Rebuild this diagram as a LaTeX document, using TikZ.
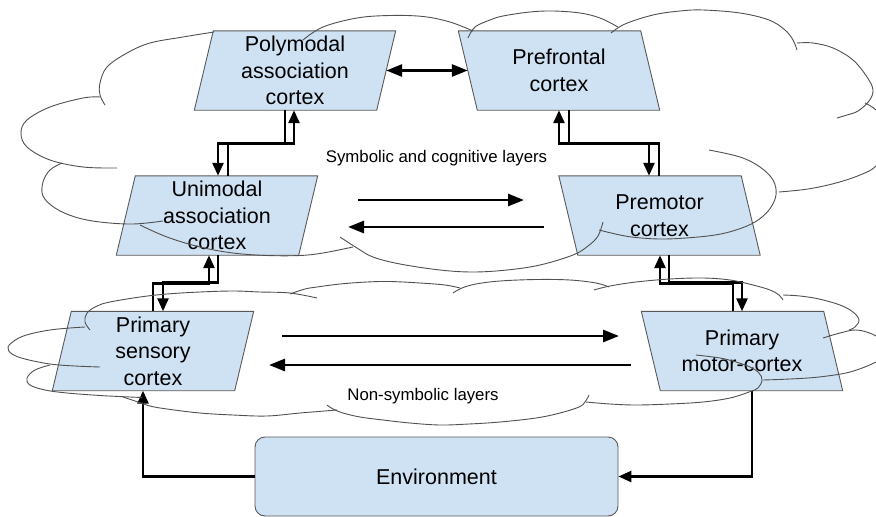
\documentclass[tikz,border=0pt]{standalone}
\usepackage{fontspec}
\setmainfont{Liberation Sans}
\usetikzlibrary{arrows.meta,calc}
\pgfdeclarelayer{background}
\pgfsetlayers{background,main}
\definecolor{boxfill}{HTML}{CFE2F3}
\definecolor{boxline}{HTML}{595959}
\definecolor{cloudline}{HTML}{505050}

\begin{document}
\begin{tikzpicture}[x=1pt,y=-1pt,
  cortex/.style={minimum width=182pt, minimum height=79pt, inner sep=0pt,
    align=center, font=\fontsize{21.5}{26.5}\selectfont},
  envbox/.style={minimum width=363pt, minimum height=79pt, inner sep=0pt,
    draw=boxline, fill=boxfill, line width=0.9pt, rounded corners=10pt,
    font=\fontsize{21.5}{26.5}\selectfont},
  layerlabel/.style={inner sep=0pt, font=\fontsize{16.8}{20}\selectfont},
  link/.style={line width=2.6pt, -{Triangle[length=13pt,width=11pt]}},
  flow/.style={line width=2.8pt, -{Triangle[length=16pt,width=12pt]}},
  cloudstroke/.style={draw=cloudline, line width=0.9pt},
]
\path[use as bounding box] (0,0) rectangle (876,517);

% cortical areas
\node[cortex] (poly)   at (295,70.5)   {Polymodal\\association\\cortex};
\node[cortex] (pref)   at (559,70.5)   {Prefrontal\\cortex};
\node[cortex] (uni)    at (217,215.5)  {Unimodal\\association\\cortex};
\node[cortex] (premot) at (659.5,215.5){Premotor\\cortex};
\node[cortex] (sens)   at (153,351)    {Primary\\sensory\\cortex};
\node[cortex] (motor)  at (742,351)    {Primary\\motor-cortex};
\node[envbox] (env)    at (436.5,476.5){Environment};

% slanted boxes behind the labels
\begin{pgfonlayer}{background}
\foreach \n/\a/\b in {poly/-9.5/9.5, pref/9.5/-9.5, uni/-9.5/9.5,
                      premot/9.5/-9.5, sens/-9.5/9.5, motor/9.5/-9.5}
  \draw[draw=boxline, fill=boxfill, line width=0.9pt]
    ($(\n.south west)+(\a,0)$) -- ($(\n.south east)+(\a,0)$) --
    ($(\n.north east)+(\b,0)$) -- ($(\n.north west)+(\b,0)$) -- cycle;
\end{pgfonlayer}

% layer captions
\node[layerlabel] (symlab)    at (436.5,158) {Symbolic and cognitive layers};
\node[layerlabel] (nonsymlab) at (423,396)   {Non-symbolic layers};

% lateral links
\draw[flow, {Triangle[length=16pt,width=12pt]}-{Triangle[length=16pt,width=12pt]}]
  (poly.east) -- (pref.west);

\coordinate (fwdA) at (358,200);  \coordinate (fwdB) at (524,200);
\coordinate (bckA) at (544,227);  \coordinate (bckB) at (348,227);
\coordinate (fwdC) at (282,336);  \coordinate (fwdD) at (619,336);
\coordinate (bckC) at (631,365);  \coordinate (bckD) at (269,365);
\draw[flow] (fwdA) -- (fwdB);
\draw[flow] (bckA) -- (bckB);
\draw[flow] (fwdC) -- (fwdD);
\draw[flow] (bckC) -- (bckD);

% vertical two-way links
\draw[link] ([xshift=-10pt]poly.south) -- ++(0,33) -| ([xshift=1pt]uni.north);
\draw[link] ([xshift=11pt]uni.north) -- ++(0,-32.5) -| ([xshift=-1pt]poly.south);

\draw[link] ([xshift=10pt]pref.south) -- ++(0,33) -| ([xshift=-10.5pt]premot.north);
\draw[link] ([xshift=-0.5pt]premot.north) -- ++(0,-32.5) -| (pref.south);

\draw[link] ([xshift=1pt]uni.south) -- ++(0,27.5) -| ([xshift=10pt]sens.north);
\draw[link] (sens.north) -- ++(0,-28) -| ([xshift=-8pt]uni.south);

\draw[link] ([xshift=9.5pt]premot.south) -- ++(0,27.5) -| (motor.north);
\draw[link] ([xshift=-9pt]motor.north) -- ++(0,-28) -| ([xshift=0.5pt]premot.south);

% loop through the environment
\draw[link] (env.west) -| ([xshift=-10pt]sens.south);
\draw[link] ([xshift=10pt]motor.south) |- (env.east);

% cloud outlines
\begin{scope}
\clip (0,0) rectangle (876,517);
% upper cloud
\draw[cloudstroke] plot[smooth,tension=0.6] coordinates {(105,105) (100,95) (100,83) (107,67) (127,53) (150,43) (183,37) (214,32)};
\draw[cloudstroke] plot[smooth,tension=0.6] coordinates {(100,97) (83,98) (50,107) (27,120) (21,133) (27,147) (50,160) (83,167) (117,168)};
\draw[cloudstroke] plot[smooth,tension=0.6] coordinates {(62,163) (50,170) (43,182) (43,196) (55,208) (75,217) (100,222) (133,224) (163,221)};
\draw[cloudstroke] plot[smooth,tension=0.6] coordinates {(140,225) (167,237) (200,247) (233,253) (267,255.5) (300,255.5) (323,253) (353,247)};
\draw[cloudstroke] plot[smooth,tension=0.6] coordinates {(340,237) (357,248) (373,257) (400,264) (440,270) (473,272) (507,270) (540,265) (573,255) (588,246) (598,236) (603,222)};
\draw[cloudstroke] plot[smooth,tension=0.6] coordinates {(599,230) (620,235) (636,237.5) (660,239) (686,238) (715,235) (736,230) (755,222) (769,210) (776,195) (773,180) (760,167) (740,157) (709,150)};
\draw[cloudstroke] plot[smooth,tension=0.6] coordinates {(779,192) (808,189) (836,183) (860,175) (876,166) (890,145) (888,125) (876,110) (865,103)};
\draw[cloudstroke] plot[smooth,tension=0.6] coordinates {(797,43) (813,43) (833,48) (853,60) (867,77) (873,90) (869,101) (858,111) (847,115) (837,118)};
\draw[cloudstroke] plot[smooth,tension=0.6] coordinates {(611,33) (625,24) (653,15) (680,11) (703,10) (740,13) (769,20) (785,30) (793,40) (797,50)};
\draw[cloudstroke] plot[smooth,tension=0.6] coordinates {(468,38) (475,27) (490,20) (503,16) (530,12) (553,11) (580,13) (600,18) (618,27)};
\draw[cloudstroke] plot[smooth,tension=0.6] coordinates {(303,40) (323,27) (357,18) (390,15.5) (423,16.5) (450,22) (473,31)};
% lower cloud
\draw[cloudstroke] plot[smooth,tension=0.6] coordinates {(90,330) (85,322) (87,313) (97,306) (110,302) (140,297) (167,294) (200,292) (233,291) (260,292) (290,293) (317,298)};
\draw[cloudstroke] plot[smooth,tension=0.6] coordinates {(290,294) (305,289) (317,287) (340,284) (367,282) (390,281.5) (420,283) (445,285) (460,288)};
\draw[cloudstroke] plot[smooth,tension=0.6] coordinates {(453,293) (462,288) (476,284) (500,281) (536,279.5) (570,280) (596,283) (609,287)};
\draw[cloudstroke] plot[smooth,tension=0.6] coordinates {(594,290) (610,286) (636,282) (670,279) (703,278) (730,280) (753,285) (770,290) (779,295) (783,300)};
\draw[cloudstroke] plot[smooth,tension=0.6] coordinates {(783,295) (800,296) (819,299) (840,305) (853,312) (859,320) (855,327) (849,330)};
\draw[cloudstroke] plot[smooth,tension=0.6] coordinates {(823,338) (840,333) (856,330) (872,334) (886,343) (888,353) (876,362) (850,372) (819,377) (790,379) (763,380)};
\draw[cloudstroke] plot[smooth,tension=0.6] coordinates {(696,355) (720,358) (736,362) (750,367) (759,373) (762,380) (758,388) (749,392) (730,398) (703,402) (670,404) (636,405) (610,404) (586,402)};
\draw[cloudstroke] plot[smooth,tension=0.6] coordinates {(589,395) (585,402) (579,407) (560,413) (536,418) (500,422) (469,424) (440,425) (410,423) (383,420) (360,417) (343,413) (333,409) (327,405)};
\draw[cloudstroke] plot[smooth,tension=0.6] coordinates {(337,410) (300,413) (267,416) (233,415) (200,413) (167,409) (150,406) (135,401) (123,397)};
\draw[cloudstroke] plot[smooth,tension=0.6] coordinates {(85,327) (70,328) (50,330) (30,334) (17,339) (8,347) (12,354) (25,359) (50,364) (75,366) (100,367)};
\draw[cloudstroke] plot[smooth,tension=0.6] coordinates {(50,365) (35,370) (27,378) (30,385) (45,390) (67,393) (100,395.5) (130,397) (142,397.5)};
\end{scope}
\end{tikzpicture}
\end{document}
